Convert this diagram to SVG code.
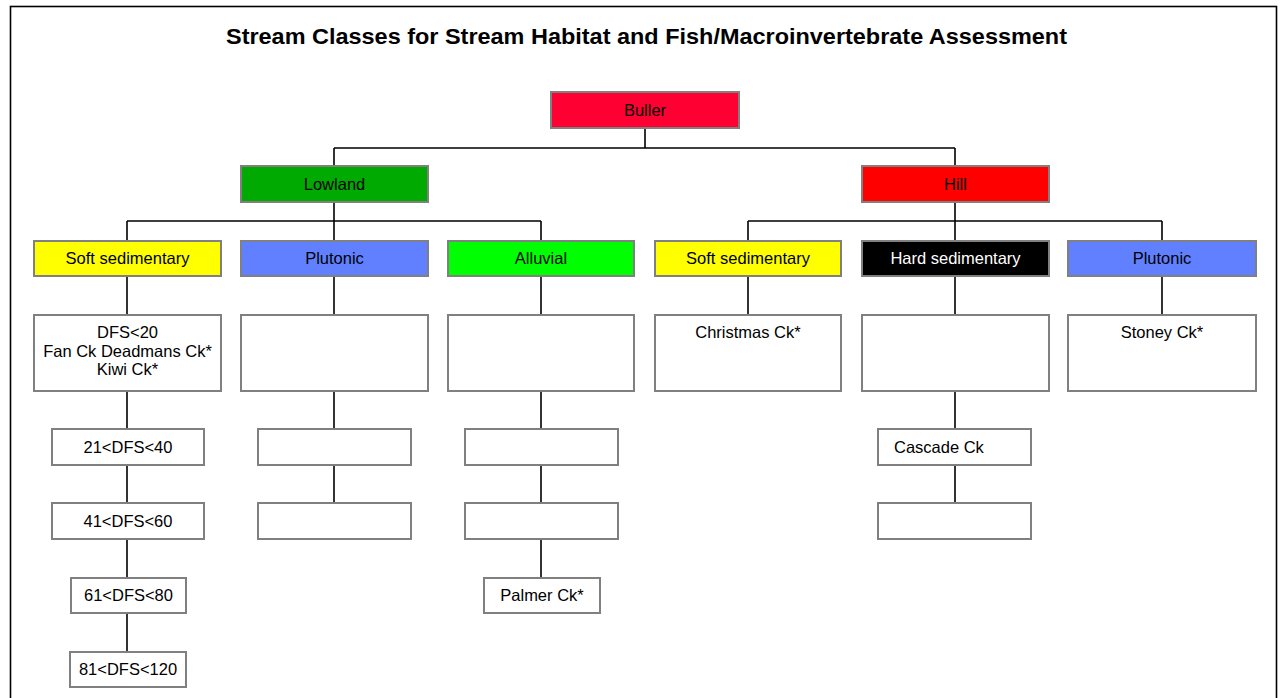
<svg xmlns="http://www.w3.org/2000/svg" width="1287" height="698" viewBox="0 0 1287 698">
<style>
.box{stroke:#808080;stroke-width:2}
.w{fill:#ffffff}
.t{font-family:"Liberation Sans",Arial,sans-serif;font-size:16.5px;fill:#000;text-anchor:middle}
.title{font-family:"Liberation Sans",Arial,sans-serif;font-size:22.5px;font-weight:bold;fill:#000;text-anchor:middle}
.c{stroke:#000;stroke-width:1.6;fill:none}
</style>
<rect x="0" y="0" width="1287" height="698" fill="#fff"/>
<rect x="10.5" y="6.5" width="1266" height="710" fill="none" stroke="#000" stroke-width="1.6"/>
<text class="title" x="646.5" y="44" textLength="841" lengthAdjust="spacingAndGlyphs">Stream Classes for Stream Habitat and Fish/Macroinvertebrate Assessment</text>
<g id="connectors">
<path class="c" d="M645 128V148M334 148H955M334 148V166M955 148V166"/>
<path class="c" d="M334 202V221M127 221H541M127 221V241M334 221V241M541 221V241"/>
<path class="c" d="M955 202V221M748 221H1162M748 221V241M955 221V241M1162 221V241"/>
<path class="c" d="M127 276V315M334 276V315M541 276V315M748 276V315M955 276V315M1162 276V315"/>
<path class="c" d="M127 391V429M127 465V503M127 539V578M127 613V652"/>
<path class="c" d="M334 391V429M334 465V503"/>
<path class="c" d="M541 391V429M541 465V503M541 539V578"/>
<path class="c" d="M955 391V429M955 465V503"/>
</g>
<g id="buller"><rect class="box" x="551" y="92" width="188" height="36" fill="#FF0033"/><text class="t" x="645" y="116">Buller</text></g>
<g id="lowland"><rect class="box" x="241" y="166" width="187" height="36" fill="#00AA00"/><text class="t" x="334.5" y="190">Lowland</text></g>
<g id="hill"><rect class="box" x="862" y="166" width="187" height="36" fill="#FF0000"/><text class="t" x="955.5" y="190">Hill</text></g>
<g id="lowland-soft"><rect class="box" x="34" y="241" width="187" height="35" fill="#FFFF00"/><text class="t" x="127.5" y="264">Soft sedimentary</text></g>
<g id="lowland-plutonic"><rect class="box" x="241" y="241" width="187" height="35" fill="#6080FF"/><text class="t" x="334.5" y="264">Plutonic</text></g>
<g id="lowland-alluvial"><rect class="box" x="448" y="241" width="186" height="35" fill="#00FF00"/><text class="t" x="541" y="264">Alluvial</text></g>
<g id="hill-soft"><rect class="box" x="655" y="241" width="186" height="35" fill="#FFFF00"/><text class="t" x="748" y="264">Soft sedimentary</text></g>
<g id="hill-hard"><rect class="box" x="862" y="241" width="187" height="35" fill="#000000"/><text class="t" x="955.5" y="264" style="fill:#fff">Hard sedimentary</text></g>
<g id="hill-plutonic"><rect class="box" x="1068" y="241" width="188" height="35" fill="#6080FF"/><text class="t" x="1162" y="264">Plutonic</text></g>
<g id="ls-1"><rect class="box w" x="34" y="315" width="187" height="76"/><text class="t" x="127.5" y="338">DFS&lt;20</text><text class="t" x="127.5" y="356.5">Fan Ck Deadmans Ck*</text><text class="t" x="127.5" y="375">Kiwi Ck*</text></g>
<g id="lp-1"><rect class="box w" x="241" y="315" width="187" height="76"/></g>
<g id="la-1"><rect class="box w" x="448" y="315" width="186" height="76"/></g>
<g id="hs-1"><rect class="box w" x="655" y="315" width="186" height="76"/><text class="t" x="748" y="338">Christmas Ck*</text></g>
<g id="hh-1"><rect class="box w" x="862" y="315" width="187" height="76"/></g>
<g id="hp-1"><rect class="box w" x="1068" y="315" width="188" height="76"/><text class="t" x="1162" y="338">Stoney Ck*</text></g>
<g id="ls-2"><rect class="box w" x="52" y="429" width="152" height="36"/><text class="t" x="128" y="453">21&lt;DFS&lt;40</text></g>
<g id="ls-3"><rect class="box w" x="52" y="503" width="152" height="36"/><text class="t" x="128" y="527">41&lt;DFS&lt;60</text></g>
<g id="ls-4"><rect class="box w" x="71" y="578" width="115" height="35"/><text class="t" x="128.5" y="601">61&lt;DFS&lt;80</text></g>
<g id="ls-5"><rect class="box w" x="70" y="652" width="116" height="35"/><text class="t" x="128" y="675">81&lt;DFS&lt;120</text></g>
<g id="lp-2"><rect class="box w" x="258" y="429" width="153" height="36"/></g>
<g id="lp-3"><rect class="box w" x="258" y="503" width="153" height="36"/></g>
<g id="la-2"><rect class="box w" x="465" y="429" width="153" height="36"/></g>
<g id="la-3"><rect class="box w" x="465" y="503" width="153" height="36"/></g>
<g id="la-4"><rect class="box w" x="484" y="578" width="116" height="35"/><text class="t" x="542" y="601">Palmer Ck*</text></g>
<g id="hh-2"><rect class="box w" x="878" y="429" width="153" height="36"/><text class="t" x="894" y="453" style="text-anchor:start">Cascade Ck</text></g>
<g id="hh-3"><rect class="box w" x="878" y="503" width="153" height="36"/></g>
</svg>
